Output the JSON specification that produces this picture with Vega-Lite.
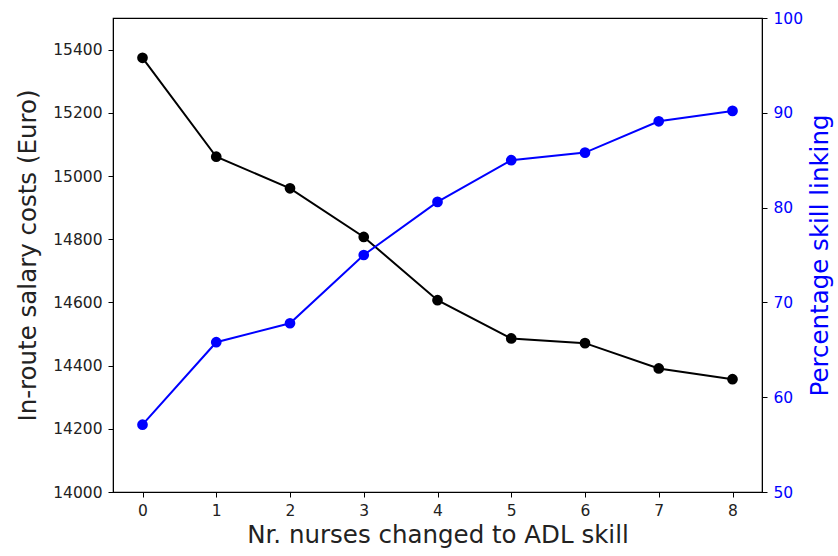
{
  "$schema": "https://vega.github.io/schema/vega-lite/v6.json",
  "width": 649,
  "height": 474,
  "autosize": {"type": "none"},
  "padding": {"left": 113, "top": 18, "right": 76, "bottom": 64},
  "background": "white",
  "config": {
    "font": "DejaVu Sans",
    "view": {"stroke": "black", "strokeWidth": 1.2},
    "axis": {
      "grid": false,
      "domainColor": "black",
      "tickColor": "black",
      "tickSize": 5,
      "labelFontSize": 15.5,
      "labelColor": "#222222",
      "titleFontSize": 24.5,
      "titleFontWeight": "normal",
      "titleColor": "#222222",
      "labelPadding": 6
    }
  },
  "data": {
    "values": [
      {"n": 0, "cost": 15374, "pct": 57.1},
      {"n": 1, "cost": 15061, "pct": 65.8},
      {"n": 2, "cost": 14961, "pct": 67.8},
      {"n": 3, "cost": 14807, "pct": 75.0},
      {"n": 4, "cost": 14607, "pct": 80.6},
      {"n": 5, "cost": 14486, "pct": 85.0},
      {"n": 6, "cost": 14471, "pct": 85.8},
      {"n": 7, "cost": 14391, "pct": 89.1},
      {"n": 8, "cost": 14357, "pct": 90.2}
    ]
  },
  "encoding": {
    "x": {
      "field": "n",
      "type": "quantitative",
      "scale": {"domain": [-0.4, 8.4], "nice": false, "zero": false},
      "axis": {"values": [0, 1, 2, 3, 4, 5, 6, 7, 8], "format": "d", "title": "Nr. nurses changed to ADL skill", "titlePadding": 5}
    }
  },
  "layer": [
    {
      "layer": [
        {"mark": {"type": "line", "color": "black", "strokeWidth": 2}},
        {"mark": {"type": "point", "filled": true, "color": "black", "size": 115, "opacity": 1}}
      ],
      "encoding": {
        "y": {
          "field": "cost",
          "type": "quantitative",
          "scale": {"domain": [14000, 15500], "nice": false, "zero": false},
          "axis": {"values": [14000, 14200, 14400, 14600, 14800, 15000, 15200, 15400], "format": "d", "title": "In-route salary costs (Euro)", "titlePadding": 12}
        }
      }
    },
    {
      "layer": [
        {"mark": {"type": "line", "color": "#0000ff", "strokeWidth": 2}},
        {"mark": {"type": "point", "filled": true, "color": "#0000ff", "size": 115, "opacity": 1}}
      ],
      "encoding": {
        "y": {
          "field": "pct",
          "type": "quantitative",
          "scale": {"domain": [50, 100], "nice": false, "zero": false},
          "axis": {"orient": "right", "values": [50, 60, 70, 80, 90, 100], "labelColor": "#0000ff", "titleColor": "#0000ff", "title": "Percentage skill linking", "titleAngle": 270, "titleBaseline": "top", "titlePadding": 6}
        }
      }
    }
  ],
  "resolve": {"scale": {"y": "independent"}}
}
